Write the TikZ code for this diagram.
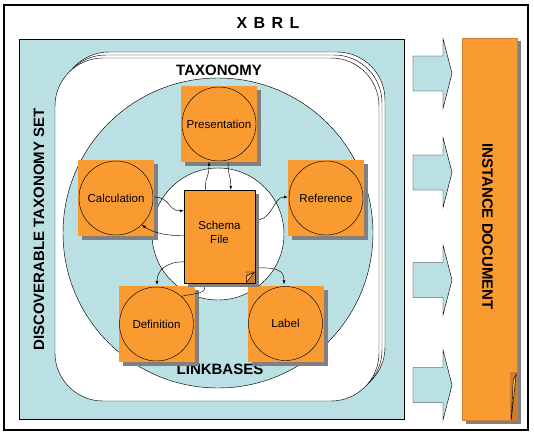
\documentclass[tikz,border=0pt]{standalone}
\usepackage{fontspec}
\setmainfont{Liberation Sans}
\usetikzlibrary{arrows.meta,shadows,calc}
\definecolor{xorange}{RGB}{250,155,50}
\definecolor{xblue}{RGB}{187,224,227}
\definecolor{xgray}{RGB}{128,128,128}
\definecolor{xdark}{RGB}{205,125,45}
\definecolor{xlight}{RGB}{252,180,95}
\newcommand\hdfont{\bfseries\fontsize{15}{18}\selectfont}
\newcommand\smfont{\fontsize{11.5}{13.5}\selectfont}
\begin{document}
\begin{tikzpicture}[x=1pt,y=-1pt,
  thinline/.style={line width=0.45pt},
  sq/.style={fill=xorange, minimum width=76pt, minimum height=76pt, inner sep=0pt,
    drop shadow={shadow xshift=4pt, shadow yshift=-4pt, shadow scale=1, fill=xgray, opacity=1}},
  circ/.style={circle, draw=black, thinline, minimum size=74pt, inner sep=0pt, font=\smfont},
  conn/.style={thinline, -{Latex[length=4pt,width=3pt]}},
  heading/.style={font=\hdfont, inner sep=0pt},
  blockarrow/.pic={\draw[thinline, fill=xblue] (0,-17.5) -- (30,-17.5) -- (30,-35) -- (39,0) -- (30,35) -- (30,17.5) -- (0,17.5) -- cycle;}
]
\useasboundingbox (0,0) rectangle (534,436);
% outer frame
\draw[line width=2pt] (4,5) rectangle (528,430);
\node[font=\bfseries\fontsize{16}{19}\selectfont, inner sep=0pt] (xbrl) at (268,23) {X\hspace{6.4pt}B\hspace{6.4pt}R\hspace{6.4pt}L};
% discoverable taxonomy set background
\draw[line width=0.6pt, fill=xblue] (19,39) rectangle (404,419);
\node[heading, rotate=90] (dts) at (39,229.5) {DISCOVERABLE TAXONOMY SET};
% stacked rounded pages
\foreach \d in {6,3,0}
  \draw[thinline, fill=white, rounded corners=48pt] (55+\d,58-\d) rectangle (379+\d,401-\d);
\node[heading] (tax) at (219,70) {TAXONOMY};
% rings
\draw[thinline, fill=xblue] (218,233) circle[radius=155];
\draw[thinline, fill=white] (218,234) circle[radius=66];
\node[heading] (lnk) at (220,369) {LINKBASES};
% linkbase boxes
\node[sq] (presbox) at (219,123.5) {};
\node[circ] (pres) at (219,124) {Presentation};
\node[sq] (calcbox) at (116,198) {};
\node[circ] (calc) at (116,198) {Calculation};
\node[sq] (refbox) at (326,198) {};
\node[circ] (ref) at (326,198) {Reference};
\node[sq] (defbox) at (156.5,324) {};
\node[circ] (def) at (156.5,324) {Definition};
\node[sq] (labbox) at (285.5,323.5) {};
\node[circ] (lab) at (285.5,323.5) {Label};
% schema file
\node[draw=black, thinline, fill=xorange, minimum width=71pt, minimum height=93pt, inner sep=0pt,
  drop shadow={shadow xshift=4pt, shadow yshift=-4pt, shadow scale=1, fill=xgray, opacity=1}] (schema) at (219.5,236.5) {};
\node[font=\smfont, align=center, inner sep=0pt] (schematext) at (219.5,232.5) {Schema\\File};
\fill[xdark] ($(schema.south east)+(-9,-12)$) rectangle (schema.south east);
\draw[thinline, fill=xlight] ($(schema.south east)+(-8.5,-1)$) -- ($(schema.south east)+(-1,-11)$) -- ($(schema.south east)+(-9,-7)$) -- cycle;
\draw[thinline] (schema.north west) rectangle (schema.south east);
% connectors
\draw[conn] ($(schema.north west)+(21.5,0)$) .. controls +(0,-15) and +(0,17) .. ($(presbox.south)+(-10,0)$);
\draw[conn] ($(presbox.south)+(9,0)$) .. controls +(0,15) and +(0,-15) .. ($(schema.north west)+(47,0)$);
\draw[conn] ($(calcbox.east)+(0,-1)$) .. controls +(16,0) and +(-16,0) .. ($(schema.north west)+(0,21)$);
\draw[conn] ($(schema.north west)+(0,46)$) .. controls +(-22,0) and +(8,6) .. (calc.-46);
\draw[conn] ($(schema.north east)+(4,30)$) .. controls +(14,-3) and +(-14,0) .. ($(refbox.west)+(0,-1)$);
\draw[conn] ($(schema.north west)+(0,72)$) .. controls +(-18,0) and +(0,-14) .. ($(defbox.north)+(0.5,-1)$);
\draw[thinline] ($(schema.south west)+(21,4)$) .. controls +(0,7) and +(12,-3) .. (def.48);
\draw[conn] ($(schema.north east)+(4,78)$) .. controls +(18,0) and +(0,-14) .. ($(labbox.north)+(-1.5,-1)$);
% block arrows
\foreach \yy in {73.5,172.5,280,385}
  \pic at (413,\yy) {blockarrow};
% instance document
\node[draw=xdark, thinline, fill=xorange, minimum width=55pt, minimum height=382pt, inner sep=0pt,
  drop shadow={shadow xshift=3.5pt, shadow yshift=-3.5pt, shadow scale=1, fill=xgray, opacity=1}] (inst) at (489.5,229) {};
\fill[xdark] ($(inst.south east)+(-7,-48)$) rectangle (inst.south east);
\draw[thinline, fill=xlight] ($(inst.south east)+(-6,-0.5)$) -- ($(inst.south east)+(-1,-46)$) -- ($(inst.south east)+(-4,-40)$) -- cycle;
\draw[thinline, draw=xdark] (inst.north west) rectangle (inst.south east);
\node[heading, rotate=-90] (insttext) at (487.5,226.5) {INSTANCE DOCUMENT};
\end{tikzpicture}
\end{document}
